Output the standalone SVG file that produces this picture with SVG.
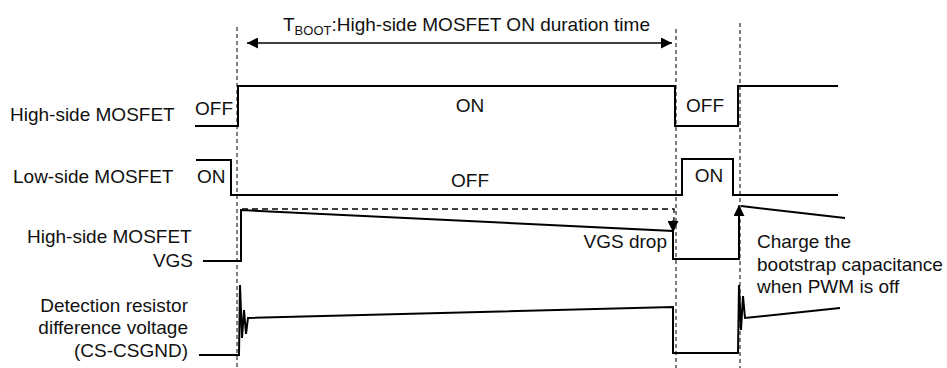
<svg xmlns="http://www.w3.org/2000/svg" width="947" height="368" viewBox="0 0 947 368">
<defs>
<style>
text{font-family:"Liberation Sans",Arial,sans-serif;font-size:19px;fill:#111}
.w{fill:none;stroke:#000;stroke-width:2;stroke-linejoin:miter}
.d{fill:none;stroke:#000;stroke-width:1;stroke-dasharray:4,3}
.dh{fill:none;stroke:#000;stroke-width:1.3;stroke-dasharray:6,4}
.a{fill:none;stroke:#000;stroke-width:1.3}
.e{text-anchor:end}
.m{text-anchor:middle}
</style>
<marker id="ah" viewBox="0 0 10 10" refX="10" refY="5" markerWidth="11" markerHeight="11" markerUnits="userSpaceOnUse" orient="auto">
<path d="M0,0 L10,5 L0,10 Z" fill="#000"/>
</marker>
<marker id="ah2" viewBox="0 0 10 10" refX="10" refY="5" markerWidth="13" markerHeight="11" markerUnits="userSpaceOnUse" orient="auto">
<path d="M0,0 L10,5 L0,10 Z" fill="#000"/>
</marker>
</defs>
<g id="guides">
<line class="d" x1="237" y1="27" x2="237" y2="368"/>
<line class="d" x1="676" y1="29" x2="676" y2="368"/>
<line class="d" x1="740" y1="23" x2="740" y2="368"/>
</g>
<g id="tboot">
<text x="283" y="31" font-size="19.5">T<tspan font-size="13" dy="4">BOOT</tspan><tspan dy="-4">:High-side MOSFET ON duration time</tspan></text>
</g>
<g id="connectors">
<line class="a" x1="457" y1="43" x2="247" y2="43" marker-end="url(#ah)"/>
<line class="a" x1="457" y1="43" x2="672" y2="43" marker-end="url(#ah)"/>
<path class="dh" d="M242,209 H674 V230"/>
<line class="a" x1="673" y1="220" x2="673" y2="232" marker-end="url(#ah2)"/>
<line class="a" x1="739" y1="230" x2="739" y2="205" marker-end="url(#ah2)"/>
</g>
<g id="high-side">
<text x="10" y="121">High-side MOSFET</text>
<text x="195" y="115">OFF</text>
<text x="470" y="112" class="m">ON</text>
<text x="705" y="112" class="m">OFF</text>
<path class="w" d="M195,126 H238 V86 H675 V126 H738 V86 H838"/>
</g>
<g id="low-side">
<text x="13" y="183">Low-side MOSFET</text>
<text x="197" y="183">ON</text>
<text x="470" y="187" class="m">OFF</text>
<text x="709" y="182" class="m">ON</text>
<path class="w" d="M196,160 H231 V195 H682 V159 H733 V195 H838"/>
</g>
<g id="vgs">
<text x="27" y="243">High-side MOSFET</text>
<text x="193" y="267" class="e">VGS</text>
<path class="w" d="M203,261 H241 V210 L673,231 V259 H739 V207"/>
<path class="w" d="M741,206 L845,218"/>
<text x="667" y="248" class="e">VGS drop</text>
<text x="757" y="248">Charge the</text>
<text x="757" y="271">bootstrap capacitance</text>
<text x="757" y="293">when PWM is off</text>
</g>
<g id="cs">
<text x="188" y="312" class="e">Detection resistor</text>
<text x="188" y="334" class="e">difference voltage</text>
<text x="188" y="357" class="e">(CS-CSGND)</text>
<path class="w" d="M199,355 H239 L240,285 L242,338 L244,310 L246,334 L248,318 L673,307 V353 H738 L739,285 L741,330 L743,296 L745,318 L840,308"/>
</g>
</svg>
